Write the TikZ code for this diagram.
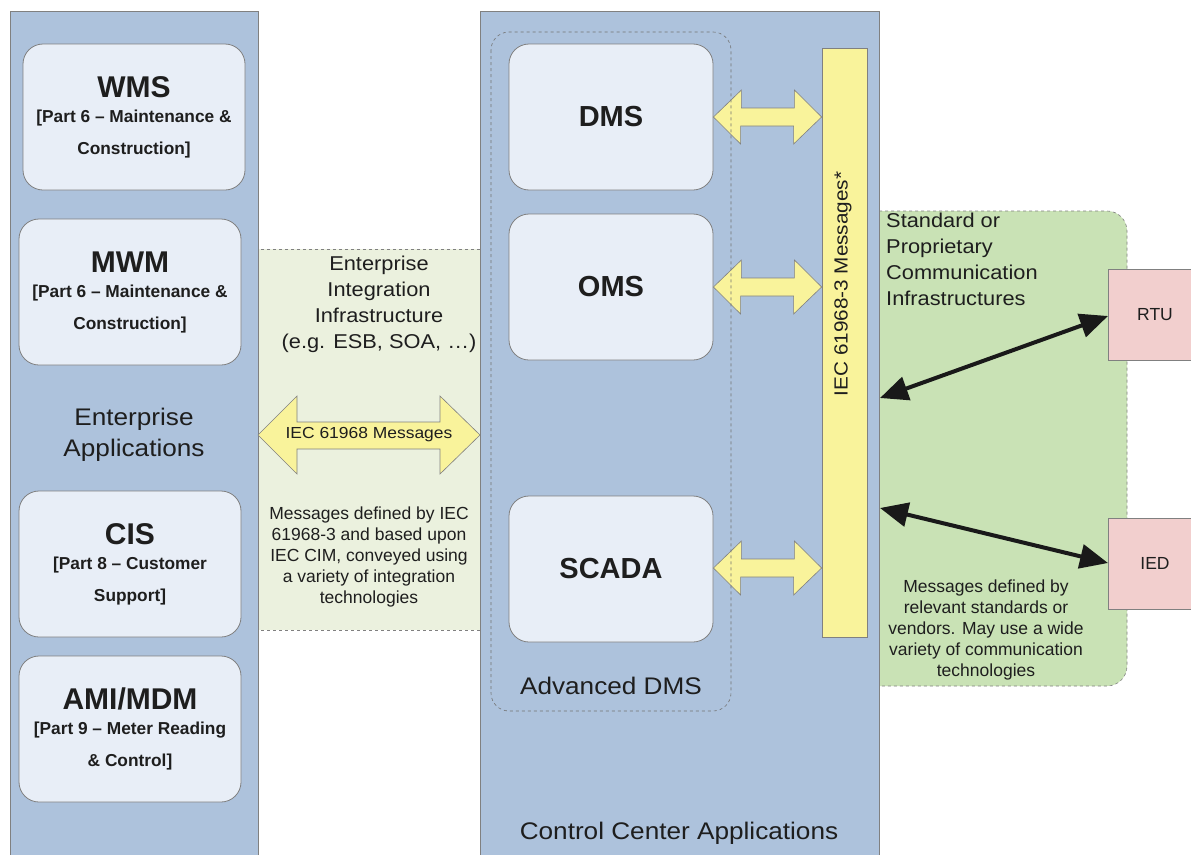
\documentclass[tikz,border=0pt]{standalone}
\usepackage{fontspec}
\setmainfont{Liberation Sans}
\newfontfamily\wide[FakeStretch=1.09]{Liberation Sans}
\usetikzlibrary{arrows.meta}
\definecolor{panelblue}{RGB}{173,194,220}
\definecolor{boxlight}{RGB}{232,238,247}
\definecolor{greenlight}{RGB}{235,241,222}
\definecolor{greenmid}{RGB}{201,226,181}
\definecolor{baryellow}{RGB}{249,243,155}
\definecolor{pinkbox}{RGB}{242,207,206}
\definecolor{edgegray}{RGB}{128,128,128}
\definecolor{txt}{RGB}{30,30,30}
\tikzset{
  panel/.style={fill=panelblue,draw=edgegray,line width=0.8pt},
  appbox/.style={fill=boxlight,draw=edgegray,line width=0.8pt,rounded corners=20pt,
     minimum width=222pt,minimum height=146pt,align=center,text=txt,inner sep=0pt,
     font=\fontsize{17.3}{32}\selectfont\bfseries},
  dmsbox/.style={fill=boxlight,draw=edgegray,line width=0.8pt,rounded corners=20pt,
     minimum width=204pt,minimum height=146pt,align=center,text=txt,inner sep=0pt,
     font=\fontsize{29}{32}\selectfont\bfseries},
  fatarrow/.style={fill=baryellow,draw=edgegray,line width=0.6pt},
  devbox/.style={fill=pinkbox,draw=edgegray,line width=0.8pt,minimum width=90pt,
     minimum height=91pt,text=txt},
  lbl/.style={text=txt,align=center,inner sep=0pt},
  link/.style={line width=4pt,black!90,{Triangle[length=28pt,width=24pt]}-{Triangle[length=28pt,width=24pt]}},
}
\newcommand{\ttl}[1]{{\fontsize{30}{30}\selectfont #1}\\[-7pt]}
\begin{document}
\begin{tikzpicture}[x=1pt,y=-1pt]
\path[use as bounding box,clip] (0,0) rectangle (1191,854);
\fill[white] (0,0) rectangle (1191,854);
% green regions
\draw[fill=greenlight,draw=edgegray,dashed,line width=0.6pt] (258,249) rectangle (480,630);
\draw[fill=greenmid,draw=edgegray,dashed,line width=0.6pt]
  (879,211) [rounded corners=20pt]-- (1127,211) -- (1127,686) [sharp corners]-- (879,686) -- cycle;
% panels
\draw[panel] (10,11) rectangle (258,870);
\draw[panel] (480,11) rectangle (879,870);
% enterprise boxes
\node[appbox] (wms) at (134,117) {\ttl{WMS}[Part 6 – Maintenance \&\\Construction]};
\node[appbox] (mwm) at (130,292) {\ttl{MWM}[Part 6 – Maintenance \&\\Construction]};
\node[appbox] (cis) at (130,564) {\ttl{CIS}[Part 8 – Customer\\Support]};
\node[appbox] (ami) at (130,729) {\ttl{AMI/MDM}[Part 9 – Meter Reading\\\& Control]};
\node[lbl,font=\wide\fontsize{24}{31}\selectfont] (entapp) at (134,435) {Enterprise\\Applications};
% control center boxes
\node[dmsbox] (dms) at (611,117) {DMS};
\node[dmsbox] (oms) at (611,287) {OMS};
\node[dmsbox] (scada) at (611,569) {SCADA};
% yellow bar
\node[fill=baryellow,draw=edgegray,line width=0.8pt,minimum width=45pt,minimum height=589pt,inner sep=0pt] (bar) at (844.5,342.5) {};
\node[lbl,rotate=90,font=\wide\fontsize{19}{24}\selectfont] (bartxt) at (843,284) {IEC 61968-3 Messages*};
% small fat arrows
\foreach \src/\yy in {dms/117,oms/287,scada/568}{
  \draw[fatarrow] (\src.east |- 0,\yy) -- ++(28,-27) -- ++(0,18) -- ++(53,0) -- ++(0,-18)
     -- (bar.west |- 0,\yy) -- ++(-28,27) -- ++(0,-18) -- ++(-53,0) -- ++(0,18) -- cycle;
}
% dashed advanced DMS
\draw[edgegray!90!black,dashed,line width=0.6pt,rounded corners=18pt] (491,32) rectangle (731,711);
\node[lbl,font=\wide\fontsize{24}{28}\selectfont] (adms) at (611,686) {Advanced DMS};
\node[lbl,font=\wide\fontsize{24}{28}\selectfont] (cca) at (679,833) {Control Center Applications};
% big fat arrow
\draw[fatarrow] (258,435) -- (297,396) -- (297,422) -- (440,422) -- (440,396) -- (480,435)
   -- (440,474) -- (440,449) -- (297,449) -- (297,474) -- cycle;
\node[lbl,font=\wide\fontsize{16}{19}\selectfont] (iecmsg) at (369,435) {IEC 61968 Messages};
\node[lbl,font=\wide\fontsize{20}{26}\selectfont] (eii) at (379,304) {Enterprise\\Integration\\Infrastructure\\(e.g. ESB, SOA, …)};
\node[lbl,font=\fontsize{17.5}{20.8}\selectfont] (eiidesc) at (369,557) {Messages defined by IEC\\61968-3 and based upon\\IEC CIM, conveyed using\\a variety of integration\\technologies};
% right side
\node[lbl,align=left,anchor=north west,font=\wide\fontsize{20}{26}\selectfont] (scomm) at (886,213) {Standard or\\Proprietary\\Communication\\Infrastructures};
\node[devbox,anchor=north west] (rtu) at (1108,269) {};
\node[text=txt,font=\fontsize{17.5}{20}\selectfont] (rtut) at (1155,315) {RTU};
\node[devbox,anchor=north west] (ied) at (1108,518) {};
\node[text=txt,font=\fontsize{17.5}{20}\selectfont] (iedt) at (1155,563) {IED};
\coordinate (ba) at (880,398);
\coordinate (bb) at (880,508);
\draw[link] (ba) -- (rtu.west |- 0,316);
\draw[link] (bb) -- (ied.west |- 0,563);
\node[lbl,font=\fontsize{17.5}{20.8}\selectfont] (commdesc) at (986,630) {Messages defined by\\relevant standards or\\vendors. May use a wide\\variety of communication\\technologies};
\end{tikzpicture}
\end{document}
